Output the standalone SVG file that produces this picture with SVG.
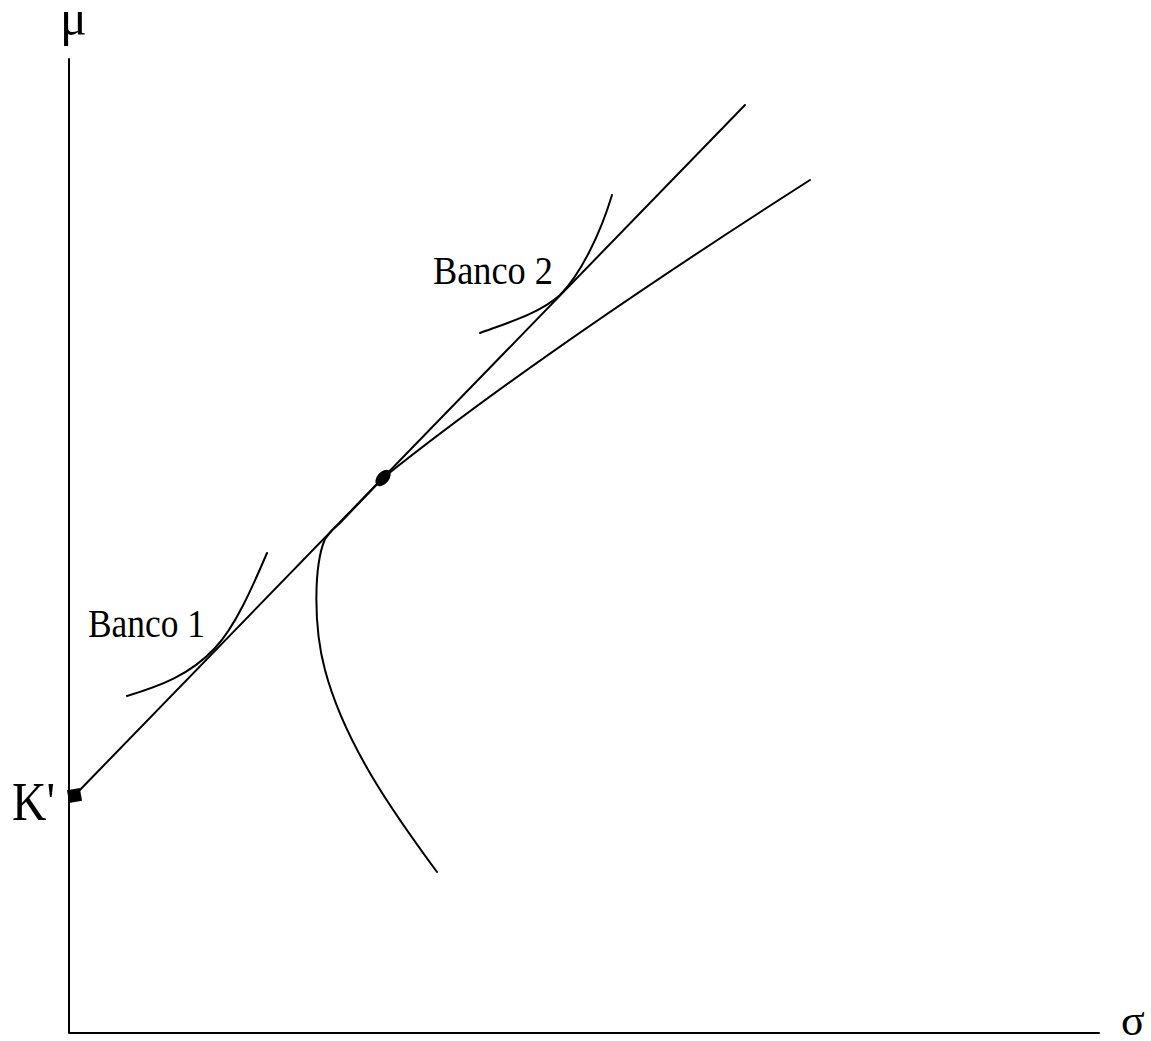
<svg xmlns="http://www.w3.org/2000/svg" width="1151" height="1041" viewBox="0 0 1151 1041">
<style>
.ln{fill:none;stroke:#000;stroke-width:2;stroke-linecap:round;stroke-linejoin:round}
.t{font-family:"Liberation Serif","Times New Roman",serif;fill:#000}
</style>
<rect width="1151" height="1041" fill="#fff"/>
<g id="axes">
<path class="ln" d="M69,59 L69,1033 L1099,1033"/>
<text class="t" x="60" y="35" font-size="50">μ</text>
<text class="t" x="1121" y="1035" font-size="44">σ</text>
</g>
<g id="connectors">
<path id="capital-line" class="ln" d="M75,795 L745,105"/>
<path id="frontier" class="ln" d="M437,872 C395,815 345,745 325,670 C313,625 314,565 325,539 C330,532 335,527 340,523 L383,478 Q537.5,354.4 810,180"/>
<path id="banco1-curve" class="ln" d="M127,696 C160,686 190,675 215,648 C235,627 252,588 267,553"/>
<path id="banco2-curve" class="ln" d="M480,333 C510,322 540,313 560,295 C580,275 600,235 612,195"/>
</g>
<g id="kprime">
<rect x="68" y="789" width="13" height="13" fill="#000" transform="rotate(-10 74.5 795.5)"/>
<text class="t" x="12" y="820" font-size="54" textLength="43" lengthAdjust="spacingAndGlyphs">K'</text>
</g>
<g id="tangency">
<ellipse cx="383" cy="478" rx="6" ry="9.5" fill="#000" transform="rotate(40 383 478)"/>
</g>
<g id="banco1">
<text class="t" x="88" y="637" font-size="40" textLength="117" lengthAdjust="spacingAndGlyphs">Banco 1</text>
</g>
<g id="banco2">
<text class="t" x="433" y="284" font-size="40" textLength="120" lengthAdjust="spacingAndGlyphs">Banco 2</text>
</g>
</svg>
